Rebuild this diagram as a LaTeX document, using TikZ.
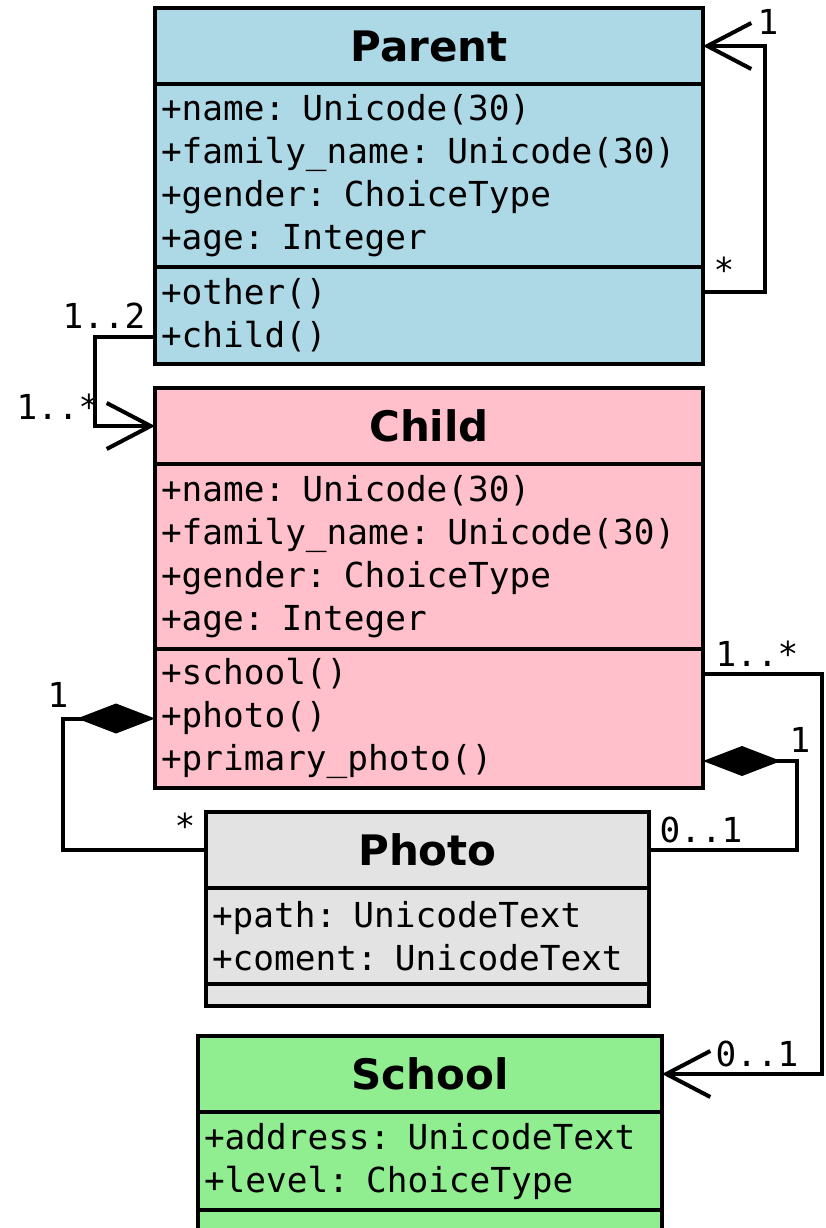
\documentclass[tikz,border=0pt]{standalone}
\usepackage{fontspec}
\setsansfont{DejaVu Sans}
\setmonofont{DejaVu Sans Mono}
\usepackage{tikz}
\usetikzlibrary{positioning,arrows.meta}
\definecolor{parentblue}{HTML}{ADD8E6}
\definecolor{childpink}{HTML}{FFC0CB}
\definecolor{photogray}{HTML}{E3E3E3}
\definecolor{schoolgreen}{HTML}{90EE90}

\begin{document}
\begin{tikzpicture}[
    x=1pt,y=-1pt,line width=4pt,
    classbox/.style={draw,outer sep=0pt,inner xsep=6pt,inner ysep=0pt,anchor=north west},
    classname/.style={classbox,font=\sffamily\bfseries\fontsize{42}{50}\selectfont,minimum height=76pt},
    members/.style={classbox,below=0pt of #1,font=\ttfamily\fontsize{34.4}{43}\selectfont,align=left},
    mult/.style={font=\ttfamily\fontsize{34.4}{43}\selectfont,inner sep=0pt},
    assoc/.style={-{Straight Barb[length=44pt,width=46pt]}},
    comp/.style={{Diamond[length=78pt,width=30pt]}-}
  ]
    \useasboundingbox (0,0) rectangle (825,1228);
    \clip (0,0) rectangle (825,1228);

    \node[classname,fill=parentblue,minimum width=548pt] (parent) at (155,8) {Parent};
    \node[members=parent,fill=parentblue,text width=536pt,minimum height=183pt] (parent-a) {+name: Unicode(30)\\+family\_name: Unicode(30)\\+gender: ChoiceType\\+age: Integer};
    \node[members=parent-a,fill=parentblue,text width=536pt,minimum height=97pt] (parent-m) {+other()\\+child()};

    \node[classname,fill=childpink,minimum width=548pt] (child) at (155,388) {Child};
    \node[members=child,fill=childpink,text width=536pt,minimum height=185pt] (child-a) {+name: Unicode(30)\\+family\_name: Unicode(30)\\+gender: ChoiceType\\+age: Integer};
    \node[members=child-a,fill=childpink,text width=536pt,minimum height=139pt] (child-m) {+school()\\+photo()\\+primary\_photo()};

    \node[classname,fill=photogray,minimum width=443pt] (photo) at (206,812) {Photo};
    \node[members=photo,fill=photogray,text width=431pt,minimum height=96pt] (photo-a) {+path: UnicodeText\\+coment: UnicodeText};
    \node[members=photo-a,fill=photogray,text width=431pt,minimum height=22pt] (photo-m) {};

    \node[classname,fill=schoolgreen,minimum width=464pt] (school) at (198,1036) {School};
    \node[members=school,fill=schoolgreen,text width=452pt,minimum height=98pt] (school-a) {+address: UnicodeText\\+level: ChoiceType};
    \node[members=school-a,fill=schoolgreen,text width=452pt,minimum height=40pt] (school-m) {};

    \draw[assoc] ([yshift=23.5pt]parent-m.east) -- ++(62,0) |- (parent.east);
    \draw[assoc] ([yshift=-21pt]parent-m.west) -- ++(-60,0) |- (child.west);
    \draw[comp] (child-m.west) -- ++(-92,0) |- (photo.west);
    \draw[comp] ([yshift=-42.5pt]child-m.east) -- ++(94,0) |- (photo.east);
    \draw[assoc] ([yshift=44.5pt]child-m.east) -- ++(119,0) |- (school.east);

    \node[mult] (self-one) at (768,22) {1};
    \node[mult] (self-many) at (724,270) {*};
    \node[mult] (pc-parent) at (104,316) {1..2};
    \node[mult] (pc-child) at (58,407) {1..*};
    \node[mult] (ph-child) at (58,695) {1};
    \node[mult] (ph-photo) at (185,826) {*};
    \node[mult] (pp-child) at (800,740) {1};
    \node[mult] (pp-photo) at (701,830) {0..1};
    \node[mult] (sc-child) at (757,654) {1..*};
    \node[mult] (sc-school) at (757,1054) {0..1};
  \end{tikzpicture}
\end{document}
